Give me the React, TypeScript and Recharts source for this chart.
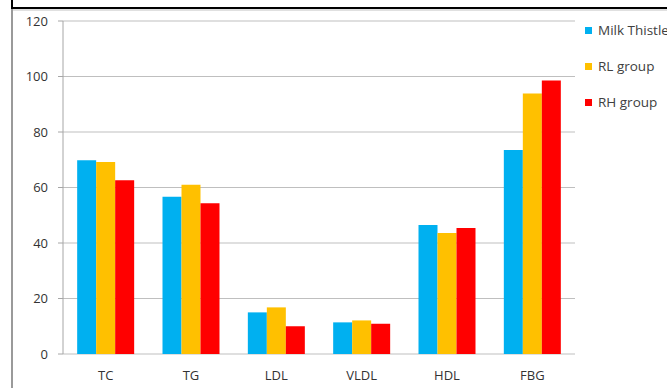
import React from 'react';
import { BarChart, Bar, XAxis, YAxis, CartesianGrid, Legend } from 'recharts';

const categories = ['TC', 'TG', 'LDL', 'VLDL', 'HDL', 'FBG'];
const milkThistle = [69.8, 56.7, 15.0, 11.4, 46.5, 73.5];
const rlGroup = [69.2, 61.0, 16.8, 12.1, 43.6, 93.9];
const rhGroup = [62.6, 54.3, 10.0, 10.9, 45.4, 98.6];
const yTicks = [0, 20, 40, 60, 80, 100, 120];
const boundaryTicks = [0, 1, 2, 3, 4, 5, 6];

const series = [
  { key: 'milk', name: 'Milk Thistle', color: '#00b0f0', values: milkThistle },
  { key: 'rl', name: 'RL group', color: '#ffc000', values: rlGroup },
  { key: 'rh', name: 'RH group', color: '#ff0000', values: rhGroup },
];

const data = categories.map((c, i) => {
  const row: Record<string, string | number> = { name: c };
  series.forEach(s => { row[s.key] = s.values[i]; });
  return row;
});

const font = '"Open Sans", "Liberation Sans", sans-serif';
const axisGray = '#a6a6a6';

const LegendBox = () => (
  <div style={{ fontFamily: font, fontSize: 13.5, color: '#404040', whiteSpace: 'nowrap' }}>
    {series.map(s => (
      <div key={s.key} style={{ display: 'flex', alignItems: 'center', height: 36 }}>
        <span style={{ display: 'inline-block', width: 7, height: 7, background: s.color, marginRight: 6 }} />
        <span>{s.name}</span>
      </div>
    ))}
  </div>
);

export default function App() {
  return (
    <div style={{ position: 'fixed', left: 0, top: 0, width: 667, height: 388, overflow: 'hidden', background: '#fff' }}>
      <div style={{ position: 'absolute', left: 11, top: 7, right: 0, height: 2, background: '#000' }} />
      <div style={{ position: 'absolute', left: 11, top: 0, width: 2, height: 9, background: '#000' }} />
      <div style={{ position: 'absolute', left: 13, top: 9, right: 0, height: 2, background: '#e0e0e0' }} />
      <div style={{ position: 'absolute', left: 11, top: 9, width: 2, bottom: 0, background: '#9a9a9a' }} />
      <BarChart
        width={667}
        height={388}
        data={data}
        margin={{ top: 21, right: 92, left: 0, bottom: 0 }}
        barCategoryGap="16.6%"
        barGap={0}
        style={{ fontFamily: font }}
      >
        <CartesianGrid vertical={false} stroke="#bfbfbf" />
        <XAxis
          xAxisId="edges"
          type="number"
          domain={[0, 6]}
          ticks={boundaryTicks}
          height={0}
          tickSize={5}
          tickFormatter={() => ''}
          stroke={axisGray}
          allowDataOverflow
        />
        <XAxis
          dataKey="name"
          height={34}
          axisLine={false}
          tickLine={false}
          tickSize={0}
          tickMargin={17}
          tick={{ fill: '#333', fontSize: 13 }}
        />
        <YAxis
          width={63}
          domain={[0, 120]}
          ticks={yTicks}
          tickSize={5}
          tickMargin={10}
          stroke={axisGray}
          tick={{ fill: '#333', fontSize: 13 }}
        />
        <Legend
          layout="horizontal"
          verticalAlign="middle"
          align="center"
          content={() => <LegendBox />}
          wrapperStyle={{ left: 585, top: 12, width: 120 }}
        />
        {series.map(s => (
          <Bar key={s.key} dataKey={s.key} name={s.name} fill={s.color} isAnimationActive={false} />
        ))}
      </BarChart>
    </div>
  );
}
